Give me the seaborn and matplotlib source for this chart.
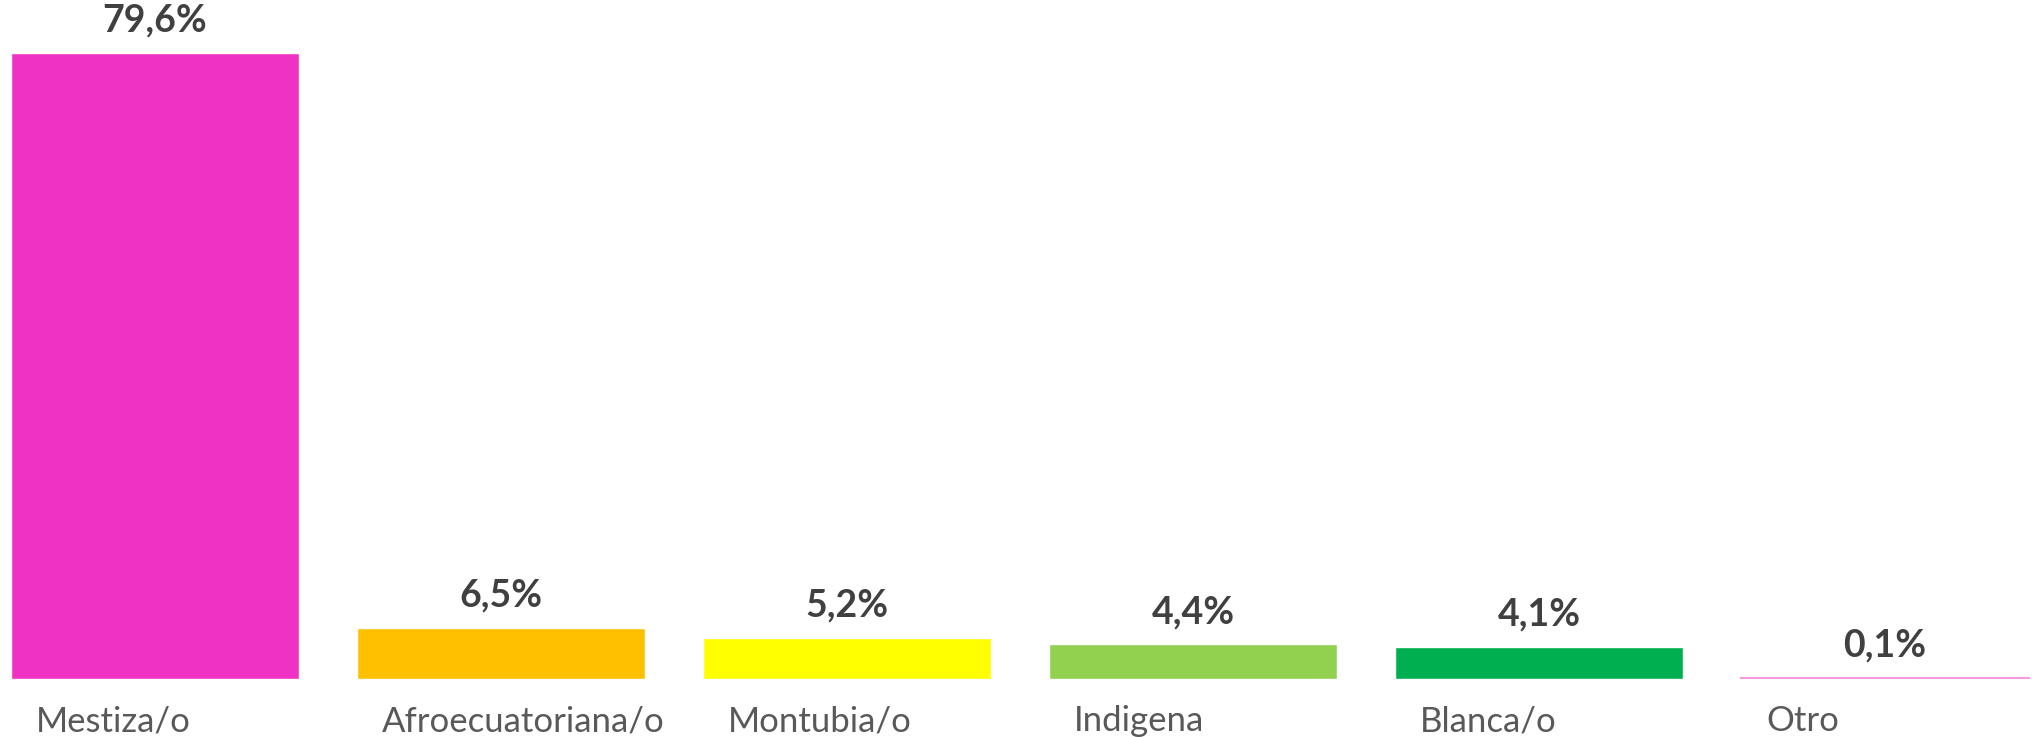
"""
Distribución por autoidentificación étnica
Bar chart with value labels, recreated with seaborn.
"""

import matplotlib
matplotlib.use("Agg")
import matplotlib.pyplot as plt
import matplotlib.transforms as mtransforms
import pandas as pd
import seaborn as sns

# --- Data ---
categories = ["Mestiza/o", "Afroecuatoriana/o", "Montubia/o", "Indigena", "Blanca/o", "Otro"]
values = [79.6, 6.5, 5.2, 4.4, 4.1, 0.1]
colors = ["#EF32C4", "#FFC000", "#FFFF00", "#92D050", "#00B050", "#EF32C4"]

df = pd.DataFrame({"grupo": categories, "pct": values})

sns.set_style("white")
plt.rcParams["font.family"] = ["Lato", "DejaVu Sans"]

fig = plt.figure(figsize=(20.32, 7.37), dpi=100)
ax = fig.add_axes([0, 0.0787, 1, 0.9213])

sns.barplot(data=df, x="grupo", y="pct", hue="grupo", palette=colors,
            legend=False, width=0.835, saturation=1, ax=ax)

# tiny "Otro" bar shows as a thin pink line
for p in ax.containers[-1]:
    p.set_edgecolor("#F49BDD")
    p.set_linewidth(1.5)

# value labels, spanish decimal comma
for cont, v in zip(ax.containers, values):
    lab = f"{v:.1f}%".replace(".", ",")
    ax.bar_label(cont, labels=[lab], padding=11, fontsize=27,
                 fontweight="bold", color="#404040")

ax.set_xlim(-0.448, 5.425)
ax.set_ylim(0, 86.3)
ax.set_xlabel("")
ax.set_ylabel("")
ax.set_yticks([])
ax.tick_params(axis="x", length=0, pad=19, labelsize=25, labelcolor="#595959")
shift = mtransforms.ScaledTranslation(-1.19, 0, fig.dpi_scale_trans)
for t in ax.get_xticklabels():
    t.set_horizontalalignment("left")
    t.set_transform(t.get_transform() + shift)
sns.despine(ax=ax, left=True, bottom=True)

fig.savefig("out.png", dpi=100)
